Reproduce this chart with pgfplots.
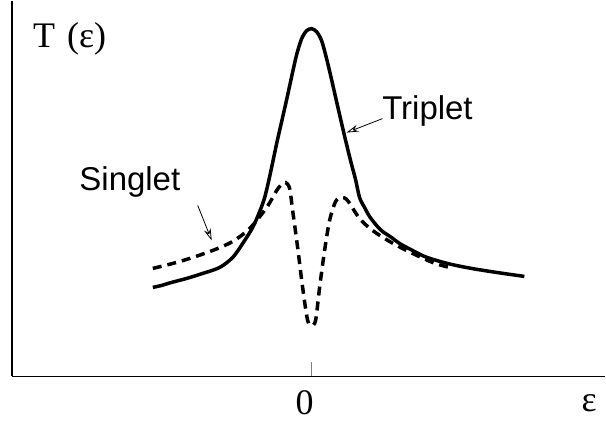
\documentclass[border=0pt]{standalone}
\usepackage{fontspec}
\setmainfont{Liberation Serif}
\newfontfamily\sans{Liberation Sans}
\usepackage{pgfplots}
\pgfplotsset{compat=1.18}
\usetikzlibrary{arrows.meta}

\begin{document}
\begin{tikzpicture}
\begin{axis}[
    scale only axis, width=594pt, height=376pt,
    xmin=-300, xmax=294, ymin=0, ymax=376,
    axis x line=bottom, axis y line=left,
    axis line style={-, line width=1.5pt},
    xtick={0}, xticklabels={}, ytick=\empty,
    tick align=inside, major tick length=14pt,
    tick style={gray, line width=0.8pt},
    clip=false,
]
% triplet (solid)
\addplot[black, line width=3.5pt, smooth] coordinates {
    (-159,89) (-150,91) (-142,93.5) (-125,98) (-109,103) (-92,109)
    (-79,119) (-69,133) (-59,149) (-52,165) (-47,179) (-42,200)
    (-35,233) (-30,255) (-25,277) (-20,300) (-15,322) (-10,338)
    (-5,346) (0,348) (5,345) (10,336) (15,318) (20,297) (25,275)
    (31,249) (36,228) (40,212) (44,197) (48,179) (53,169) (58,160)
    (65,151) (71,145) (80,139) (88,133) (101,126) (113,120) (125,116)
    (140,112) (160,108) (185,104) (213,100)
};
% singlet (dashed)
\addplot[black, line width=3.5pt, smooth, dash pattern=on 9pt off 6pt] coordinates {
    (-159,108) (-139,113) (-122,118) (-99,126) (-79,135) (-62,148)
    (-45,169) (-35,186) (-30,192) (-26,194) (-22,188) (-19,166)
    (-14,129) (-9,89) (-4,56) (0,51) (4,56) (8,89) (13,126) (18,156)
    (24,175) (30,179) (36,176) (48,158) (61,146) (78,135) (95,126)
    (121,114) (138,109)
};
\node[anchor=base west, inner sep=0pt, font=\fontsize{36}{40}\selectfont] at (axis cs:-279,329) {T\hspace{12pt}(ε)};
\node[anchor=base, inner sep=0pt, font=\fontsize{36}{40}\selectfont] at (axis cs:-7,-38) {0};
\node[anchor=base, inner sep=0pt, font=\fontsize{36}{40}\selectfont] at (axis cs:278,-35) {ε};
\node[inner sep=0pt, font=\sans\fontsize{33}{38}\selectfont] at (axis cs:-182,195) {Singlet};
\node[inner sep=0pt, font=\sans\fontsize{33}{38}\selectfont] at (axis cs:116,266) {Triplet};
\draw[line width=0.8pt, -{Stealth[open, length=12pt, width=7pt, inset=4pt]}] (axis cs:-114,171) -- (axis cs:-100,136);
\draw[line width=0.8pt, -{Stealth[open, length=12pt, width=7pt, inset=4pt]}] (axis cs:71,258) -- (axis cs:35,244);
\path (axis cs:-312,-46) rectangle (axis cs:294,376);
\end{axis}
\end{tikzpicture}
\end{document}
